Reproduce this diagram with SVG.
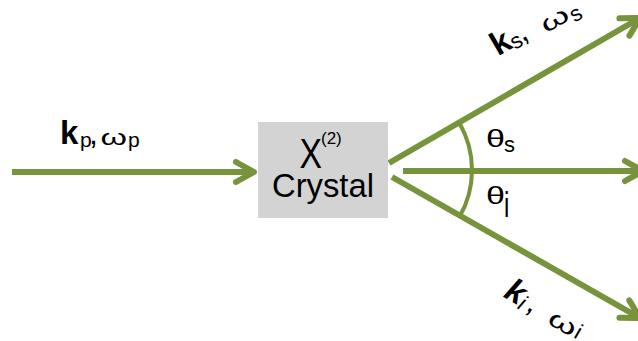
<svg xmlns="http://www.w3.org/2000/svg" width="638" height="341" viewBox="0 0 638 341">
<defs>
<style>
.ln{stroke:#77933C;stroke-width:6;fill:none}
.arc{stroke:#77933C;stroke-width:4;fill:none}
.t{font-family:"Liberation Sans",Arial,sans-serif;fill:#000}
.b{font-weight:bold}
</style>
<marker id="ah" markerUnits="userSpaceOnUse" viewBox="-22 -14 26 28" refX="0" refY="0" markerWidth="26" markerHeight="28" orient="auto" overflow="visible">
<path d="M-18,-10 L0,0 L-18,10" fill="none" stroke="#77933C" stroke-width="6" stroke-linecap="round" stroke-linejoin="round"/>
</marker>
</defs>
<rect width="638" height="341" fill="#fff"/>
<g id="connectors">
<line id="pump" class="ln" x1="12" y1="172" x2="254" y2="172" marker-end="url(#ah)"/>
<line id="signal" class="ln" x1="389" y1="163" x2="640" y2="18" marker-end="url(#ah)"/>
<line id="axis" class="ln" x1="403" y1="171" x2="643" y2="171" marker-end="url(#ah)"/>
<line id="idler" class="ln" x1="392" y1="177" x2="640" y2="318" marker-end="url(#ah)"/>
<path id="angle" class="arc" d="M459.4,123 A94,94 0 0 1 459.4,217"/>
</g>
<g id="crystal">
<rect x="258" y="122" width="130" height="96" fill="#D3D3D3"/>
<text class="t" x="299.5" y="168.3" font-size="42" textLength="22.5" lengthAdjust="spacingAndGlyphs">X</text>
<text class="t" x="321" y="144" font-size="17">(2)</text>
<text class="t" x="323" y="197" font-size="33" text-anchor="middle" textLength="102" lengthAdjust="spacingAndGlyphs">Crystal</text>
</g>
<g id="pump-label">
<text class="t b" x="60" y="144" font-size="33">k</text>
<text class="t" x="80" y="147" font-size="21">p</text>
<text class="t" x="89" y="144" font-size="32">,</text>
<text class="t" x="100.5" y="145" font-size="22" textLength="26.5" lengthAdjust="spacingAndGlyphs">ω</text>
<text class="t" x="128" y="147" font-size="21">p</text>
</g>
<g id="signal-label" transform="translate(498,56.5) rotate(-30)">
<text class="t b" x="0" y="0" font-size="33">k</text>
<text class="t" x="18" y="3" font-size="22">s</text>
<text class="t" x="28" y="0" font-size="32">,</text>
<text class="t" x="53" y="4" font-size="24" textLength="29" lengthAdjust="spacingAndGlyphs">ω</text>
<text class="t" x="83" y="9" font-size="22">s</text>
</g>
<g id="idler-label" transform="translate(502.5,296.5) rotate(30)">
<text class="t b" x="0" y="0" font-size="33" font-style="italic">k</text>
<text class="t" x="18" y="3" font-size="22" font-style="italic">i</text>
<text class="t" x="26" y="0" font-size="32">,</text>
<text class="t" x="51" y="1" font-size="24" textLength="29" lengthAdjust="spacingAndGlyphs">ω</text>
<text class="t" x="81" y="0" font-size="22">i</text>
</g>
<g id="theta-s">
<text class="t" x="486" y="147" font-size="24" textLength="19" lengthAdjust="spacingAndGlyphs">θ</text>
<text class="t" x="504" y="152.3" font-size="22">s</text>
</g>
<g id="theta-i">
<text class="t" x="486" y="204" font-size="24" textLength="19" lengthAdjust="spacingAndGlyphs">θ</text>
<text class="t" font-size="24" transform="translate(504,216.7) scale(1,1.5)">i</text>
</g>
</svg>
